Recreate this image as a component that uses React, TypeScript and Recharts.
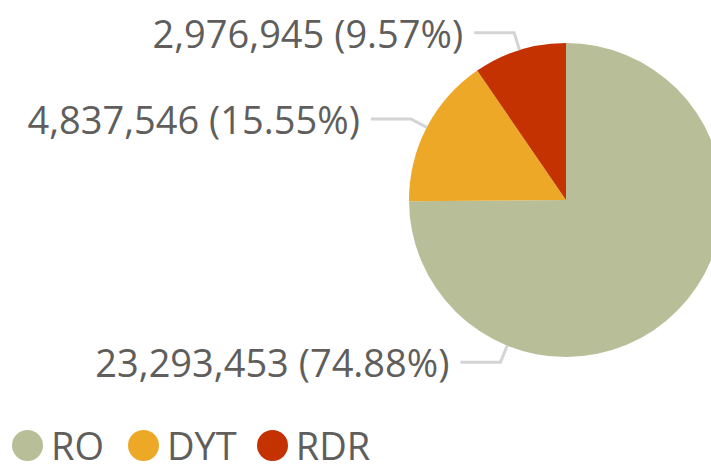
import { PieChart, Pie, Cell, Legend } from 'recharts';

const names = ['RO', 'DYT', 'RDR'];
const values = [23293453, 4837546, 2976945];
const colors = ['#B8BF98', '#ECA826', '#C33200'];

const data = names.map((name, i) => ({ name, value: values[i] }));
const total = values.reduce((a, b) => a + b, 0);

// RO label sits on the visible (left) part of its slice, like the original
const labelAngleOverride: Record<string, number> = { RO: -112 };

const RAD = Math.PI / 180;
const polar = (cx: number, cy: number, r: number, angle: number) => ({
    x: cx + r * Math.cos(-angle * RAD),
    y: cy + r * Math.sin(-angle * RAD),
});

const renderLabel = (props: any) => {
    const { cx, cy, outerRadius, midAngle, name, value } = props;
    const angle = labelAngleOverride[name] ?? midAngle;
    const p0 = polar(cx, cy, outerRadius, angle);
    const p1 = polar(cx, cy, outerRadius + 18, angle);
    const p2 = { x: p1.x - 40, y: p1.y };
    const pct = ((value / total) * 100).toFixed(2);
    return (
        <g>
            <polyline
                points={`${p0.x},${p0.y} ${p1.x},${p1.y} ${p2.x},${p2.y}`}
                fill="none"
                stroke="#d4d4d4"
                strokeWidth={3}
            />
            <text
                x={p2.x - 11}
                y={p1.y + 15}
                textAnchor="end"
                fill="#605E5C"
                fontSize={38}
                fontFamily="'Open Sans', sans-serif"
            >
                {`${value.toLocaleString('en-US')} (${pct}%)`}
            </text>
        </g>
    );
};

// keep the legend in data order (RO, DYT, RDR)
const renderLegend = () => (
    <div style={{ display: 'flex', alignItems: 'center', fontFamily: "'Open Sans', sans-serif" }}>
        {names.map((n, i) => (
            <div key={n} style={{ display: 'flex', alignItems: 'center', marginRight: i === 0 ? 24 : 20 }}>
                <span
                    style={{
                        width: 31,
                        height: 31,
                        borderRadius: '50%',
                        background: colors[i],
                        display: 'inline-block',
                        marginRight: 8,
                    }}
                />
                <span style={{ fontSize: 38, color: '#605E5C', lineHeight: '38px' }}>{n}</span>
            </div>
        ))}
    </div>
);

const App = () => {
    return (
        <div style={{ position: 'absolute', left: 0, top: 0, background: '#fff' }}>
            <PieChart width={711} height={465} margin={{ top: 0, right: 0, bottom: 0, left: 0 }}>
                <Pie
                    data={data}
                    dataKey="value"
                    nameKey="name"
                    cx={566}
                    cy={200}
                    outerRadius={157}
                    startAngle={90}
                    endAngle={-270}
                    stroke="none"
                    label={renderLabel}
                    labelLine={false}
                    isAnimationActive={false}
                >
                    {data.map((d, i) => (
                        <Cell key={d.name} fill={colors[i]} />
                    ))}
                </Pie>
                <Legend
                    content={renderLegend}
                    verticalAlign="bottom"
                    align="left"
                    wrapperStyle={{ left: 12, bottom: 'auto', top: 426, width: 'auto' }}
                />
            </PieChart>
        </div>
    );
};

export default App;
